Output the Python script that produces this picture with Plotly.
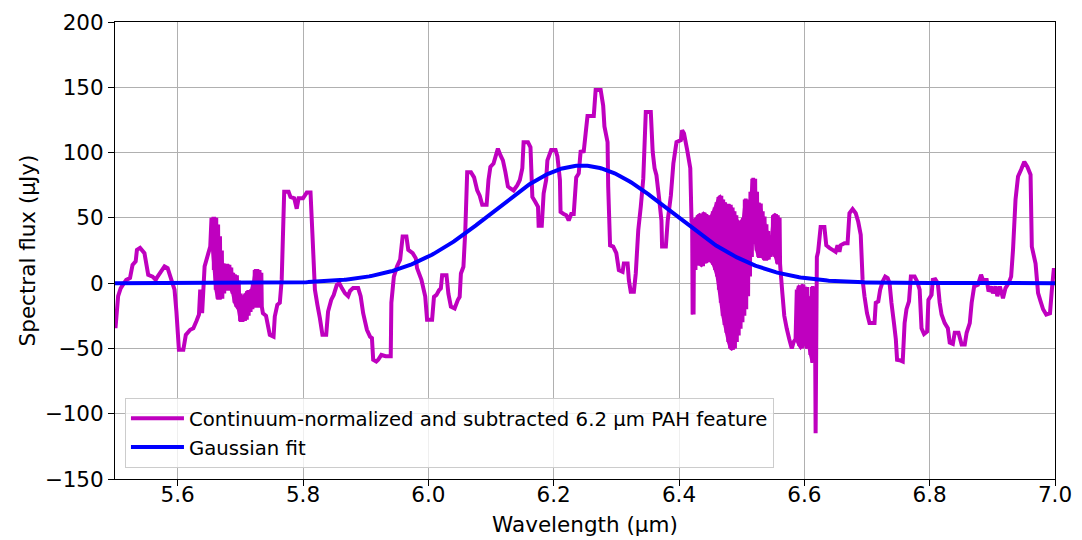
import numpy as np
import plotly.graph_objects as go

# ---------------- data ----------------
# smooth part 5.50 - 5.652 um
SEG_A_X = [5.500, 5.501, 5.505, 5.509, 5.513, 5.518, 5.524, 5.528, 5.533, 5.535, 5.540, 5.547,
           5.553, 5.560, 5.565, 5.568, 5.579, 5.584, 5.590, 5.595, 5.598, 5.602, 5.609, 5.613,
           5.620, 5.625, 5.630, 5.634, 5.636, 5.639, 5.643, 5.649, 5.652]
SEG_A_Y = [-33, -33, -10, -4, -1, 2.5, 4, 14, 16.6, 25.5, 27, 23,
           6.4, 5, 2.5, 5, 12.8, 11.5, 2.5, -5, -21.7, -51, -51, -39.6,
           -35.7, -34.5, -29, -24, -5, -23, 12.8, 23, 28]

# noisy band 5.654 - 5.735 um (upper / lower envelope of the rapid oscillation)
DENSE1_X = [5.654, 5.657, 5.660, 5.663, 5.666, 5.669, 5.672, 5.675, 5.678, 5.681, 5.684, 5.687,
            5.690, 5.693, 5.696, 5.699, 5.702, 5.705, 5.708, 5.711, 5.714, 5.717, 5.720, 5.723,
            5.726, 5.729, 5.732]
DENSE1_HI = [50, 50, 50, 45, 36, 25, 15, 14, 14, 14, 12, 8,
             6, 6, 2, -8, -10, -10, -8, -6, -6, -5, 0, 10,
             10, 10, 8]
DENSE1_LO = [30, 10, -5, -12, -12, -12, -8, -5, -5, -5, -5, -8,
             -15, -18, -20, -29, -29, -29, -28, -25, -22, -20, -18, -18,
             -18, -18, -18]

# smooth part 5.736 - 6.420 um
SEG_B_X = [5.736, 5.741, 5.747, 5.753, 5.755, 5.759, 5.763, 5.766, 5.770, 5.777, 5.780, 5.786,
           5.790, 5.793, 5.800, 5.806, 5.812, 5.815, 5.819, 5.823, 5.827, 5.831, 5.837, 5.840,
           5.845, 5.849, 5.854, 5.858, 5.862, 5.867, 5.872, 5.875, 5.880, 5.888, 5.892, 5.896,
           5.902, 5.907, 5.910, 5.912, 5.917, 5.920, 5.925, 5.932, 5.940, 5.941, 5.945, 5.950,
           5.955, 5.959, 5.965, 5.968, 5.975, 5.980, 5.982, 5.989, 5.995, 5.998, 6.006, 6.009,
           6.013, 6.017, 6.020, 6.022, 6.029, 6.032, 6.036, 6.042, 6.047, 6.050, 6.052, 6.056,
           6.059, 6.062, 6.068, 6.073, 6.078, 6.082, 6.086, 6.093, 6.096, 6.099, 6.104, 6.111,
           6.115, 6.119, 6.123, 6.127, 6.131, 6.136, 6.142, 6.146, 6.150, 6.152, 6.159, 6.163,
           6.166, 6.171, 6.175, 6.176, 6.181, 6.184, 6.188, 6.190, 6.196, 6.203, 6.206, 6.210,
           6.211, 6.216, 6.220, 6.224, 6.228, 6.232, 6.236, 6.240, 6.243, 6.248, 6.251, 6.254,
           6.264, 6.267, 6.275, 6.279, 6.281, 6.286, 6.287, 6.290, 6.295, 6.300, 6.304, 6.310,
           6.312, 6.318, 6.320, 6.323, 6.328, 6.331, 6.335, 6.339, 6.343, 6.347, 6.355, 6.358,
           6.361, 6.364, 6.368, 6.372, 6.373, 6.379, 6.382, 6.387, 6.391, 6.396, 6.403, 6.405,
           6.408, 6.413, 6.418, 6.420]
SEG_B_Y = [-23, -25, -39.6, -41, -25.5, -16.6, -15, 2.5, 70, 70, 66, 65,
           57, 65, 65, 69.4, 69.4, 38, -5, -16.6, -27, -39.6, -39.6, -21.7,
           -12.8, -9, -1.3, 0, -3.8, -7.7, -10, -6, -3.8, -3.8, -10, -23,
           -35.7, -41, -42, -58.7, -60, -58.7, -55, -56, -56, -15, 5, 12.8,
           18, 35.7, 35.7, 25.5, 23, 19, 11.5, 2.5, -10, -28, -28, -10.5,
           -9, -5.4, -4, 6, 6, -8, -18, -19.4, -13, -10.5, 7.4, 12.5,
           40.6, 85, 85, 81, 71, 67, 60, 60, 79, 89, 91.6, 103,
           98, 94, 85, 74, 72.5, 71, 75, 79, 88, 108, 108, 104,
           66, 62, 58.5, 44, 44, 68.7, 79, 94, 102, 102, 97, 79,
           54.6, 53, 52, 48, 53, 53, 81, 84, 100.6, 101, 114.6, 128,
           128, 148, 148, 136, 120, 108, 74, 29, 28, 23, 10, 8.7,
           15, 15, 2.3, -6.6, -6.6, 7.4, 40.6, 58.5, 80, 131, 131, 100.6,
           88, 82.7, 66, 48, 28, 28, 48, 67, 91.6, 108, 109.5, 117,
           114.6, 102, 88, 48]

# noisy band 6.421 - 6.559 um
DENSE2_X = [6.421, 6.424, 6.427, 6.430, 6.433, 6.436, 6.439, 6.442, 6.445, 6.448, 6.451, 6.454,
            6.457, 6.460, 6.463, 6.466, 6.469, 6.472, 6.475, 6.478, 6.481, 6.484, 6.487, 6.490,
            6.493, 6.496, 6.499, 6.502, 6.505, 6.508, 6.511, 6.514, 6.517, 6.520, 6.523, 6.526,
            6.529, 6.532, 6.535, 6.538, 6.541, 6.544, 6.547, 6.550, 6.553, 6.556, 6.559]
DENSE2_HI = [48, 45, 50, 52, 53, 52, 54, 53, 52, 50, 52, 55,
             58, 62, 66, 67, 64, 62, 60, 60, 60, 58, 55, 52,
             48, 46, 48, 50, 64, 64, 55, 70, 80, 80, 70, 61,
             61, 55, 51, 45, 40, 36, 36, 52, 53, 52, 50]
DENSE2_LO = [-24, 10, 15, 14, 14, 13, 15, 16, 16, 18, 16, 14,
             10, 5, -5, -15, -25, -32, -38, -45, -50, -51, -50, -45,
             -40, -35, -30, -25, -20, -10, 5, 20, 30, 35, 25, 20,
             20, 20, 18, 18, 18, 20, 22, 22, 20, 15, 15]

# smooth part 6.562 - 6.586 um
SEG_C_X = [6.562, 6.565, 6.568, 6.572, 6.576, 6.580, 6.583, 6.586]
SEG_C_Y = [10, -8, -25, -35, -43, -50, -45, -43]

# noisy band 6.588 - 6.615 um
DENSE3_X = [6.588, 6.591, 6.594, 6.597, 6.600, 6.603, 6.606, 6.609, 6.612, 6.615]
DENSE3_HI = [-5, -2, -3, -1, -5, -3, -10, -15, -3, -3]
DENSE3_LO = [-45, -48, -50, -48, -46, -50, -48, -55, -61, -45]

# smooth part 6.618 - 7.00 um
SEG_D_X = [6.618, 6.620, 6.622, 6.626, 6.632, 6.635, 6.640, 6.645, 6.650, 6.653, 6.656, 6.658,
           6.664, 6.669, 6.672, 6.677, 6.682, 6.686, 6.690, 6.693, 6.696, 6.700, 6.704, 6.712,
           6.714, 6.718, 6.721, 6.725, 6.729, 6.733, 6.736, 6.739, 6.743, 6.746, 6.748, 6.752,
           6.757, 6.760, 6.763, 6.767, 6.770, 6.776, 6.780, 6.784, 6.787, 6.791, 6.796, 6.798,
           6.803, 6.805, 6.809, 6.813, 6.816, 6.819, 6.824, 6.829, 6.832, 6.837, 6.840, 6.846,
           6.851, 6.856, 6.859, 6.864, 6.867, 6.871, 6.877, 6.882, 6.885, 6.891, 6.894, 6.898,
           6.901, 6.905, 6.908, 6.912, 6.917, 6.921, 6.926, 6.930, 6.933, 6.937, 6.941, 6.946,
           6.951, 6.956, 6.961, 6.963, 6.969, 6.973, 6.977, 6.981, 6.986, 6.992, 6.995, 6.998,
           7.000]
SEG_D_Y = [-115, 20, 24, 43, 43, 29, 27, 25.5, 24, 29, 24, 29,
           30.6, 30.6, 53.6, 56.7, 53.6, 47, 37, 2.5, -10, -23, -30.6, -30.6,
           -15, -14, -5, 1.3, 5, 3.8, 0, -15, -30.6, -43, -58.7, -59,
           -60, -30.6, -20, -14, 5, 5, 1.3, -5, -34.5, -39, -37, -12.8,
           -9, 2.5, 3, 0, -15, -24, -30.6, -34.5, -45.5, -46.5, -38, -38,
           -47, -47, -38, -30.6, -15, -2.5, -1.3, 6.4, 2.5, 2.5, -6.4, -2.5,
           -7.7, -2.5, -10, -2.5, -11.5, -3.8, 0, 5, 25.5, 64, 81.7, 87,
           93, 89, 83, 28, 15, -7.7, -14, -20, -24, -23, -5, 10,
           10]

# Gaussian fit parameters
GAUSS_AMP = 90.0
GAUSS_CENTER = 6.245
GAUSS_SIGMA = 0.142

X_TICKS = [5.6, 5.8, 6.0, 6.2, 6.4, 6.6, 6.8, 7.0]
Y_TICKS = [-150, -100, -50, 0, 50, 100, 150, 200]

SPECTRUM_LABEL = "Continuum-normalized and subtracted 6.2 µm PAH feature"
FIT_LABEL = "Gaussian fit"

MAGENTA = "#BF00BF"
BLUE = "#0000FF"


def zigzag(xs, hi, lo, step=0.00075):
    """Rapid oscillation between the read upper and lower envelope values."""
    ox, oy = [], []
    for x, h, l in zip(xs, hi, lo):
        ox += [x, x + step, x + 2 * step, x + 3 * step]
        oy += [h, l, h, l]
    return ox, oy


d1x, d1y = zigzag(DENSE1_X, DENSE1_HI, DENSE1_LO)
d2x, d2y = zigzag(DENSE2_X, DENSE2_HI, DENSE2_LO)
d3x, d3y = zigzag(DENSE3_X, DENSE3_HI, DENSE3_LO)

wave = SEG_A_X + d1x + SEG_B_X + d2x + SEG_C_X + d3x + SEG_D_X
flux = SEG_A_Y + d1y + SEG_B_Y + d2y + SEG_C_Y + d3y + SEG_D_Y

fit_x = np.linspace(5.5, 7.0, 600)
fit_y = GAUSS_AMP * np.exp(-((fit_x - GAUSS_CENTER) ** 2) / (2 * GAUSS_SIGMA ** 2))

FONT = "DejaVu Sans"

fig = go.Figure()

# solid envelopes of the rapidly oscillating parts (same colour as the line)
for dx, dh, dl in [(DENSE1_X, DENSE1_HI, DENSE1_LO),
                   (DENSE2_X, DENSE2_HI, DENSE2_LO),
                   (DENSE3_X, DENSE3_HI, DENSE3_LO)]:
    fig.add_trace(go.Scatter(x=list(dx) + list(dx)[::-1], y=list(dh) + list(dl)[::-1],
                             mode="lines", fill="toself", fillcolor=MAGENTA,
                             line=dict(color=MAGENTA, width=2), showlegend=False,
                             hoverinfo="skip"))

fig.add_trace(go.Scatter(x=wave, y=flux, mode="lines", name=SPECTRUM_LABEL,
                         legendgroup="a",
                         line=dict(color=MAGENTA, width=4, simplify=False)))
fig.add_trace(go.Scatter(x=fit_x, y=fit_y, mode="lines", name=FIT_LABEL,
                         legendgroup="b",
                         line=dict(color=BLUE, width=4)))

axis_common = dict(
    showgrid=True, gridcolor="#b0b0b0", gridwidth=1,
    showline=True, linecolor="black", linewidth=1, mirror=True,
    ticks="outside", ticklen=6, tickwidth=1, tickcolor="black",
    tickfont=dict(family=FONT, size=21.5, color="black"),
    zeroline=False, automargin=False,
)

fig.update_layout(
    width=1074, height=532,
    margin=dict(l=107, r=27, t=14, b=61),
    paper_bgcolor="white", plot_bgcolor="white",
    font=dict(family=FONT, color="black"),
    xaxis=dict(range=[5.5, 7.0], tickvals=X_TICKS, tickformat=".1f", ticklabelstandoff=-10,
               title=dict(text="Wavelength (µm)", font=dict(family=FONT, size=21.5), standoff=11),
               **axis_common),
    yaxis=dict(range=[-150, 200], tickvals=Y_TICKS, ticklabelstandoff=0,
               title=dict(text="Spectral flux (µJy)", font=dict(family=FONT, size=21.5), standoff=3),
               **axis_common),
    legend=dict(x=0.0106, y=0.024, xanchor="left", yanchor="bottom",
                bgcolor="rgba(255,255,255,0.8)", bordercolor="#cccccc", borderwidth=1,
                font=dict(family=FONT, size=19.7, color="black"), tracegroupgap=0,
                itemwidth=53),
    showlegend=True,
)

fig.write_html("out.html")
